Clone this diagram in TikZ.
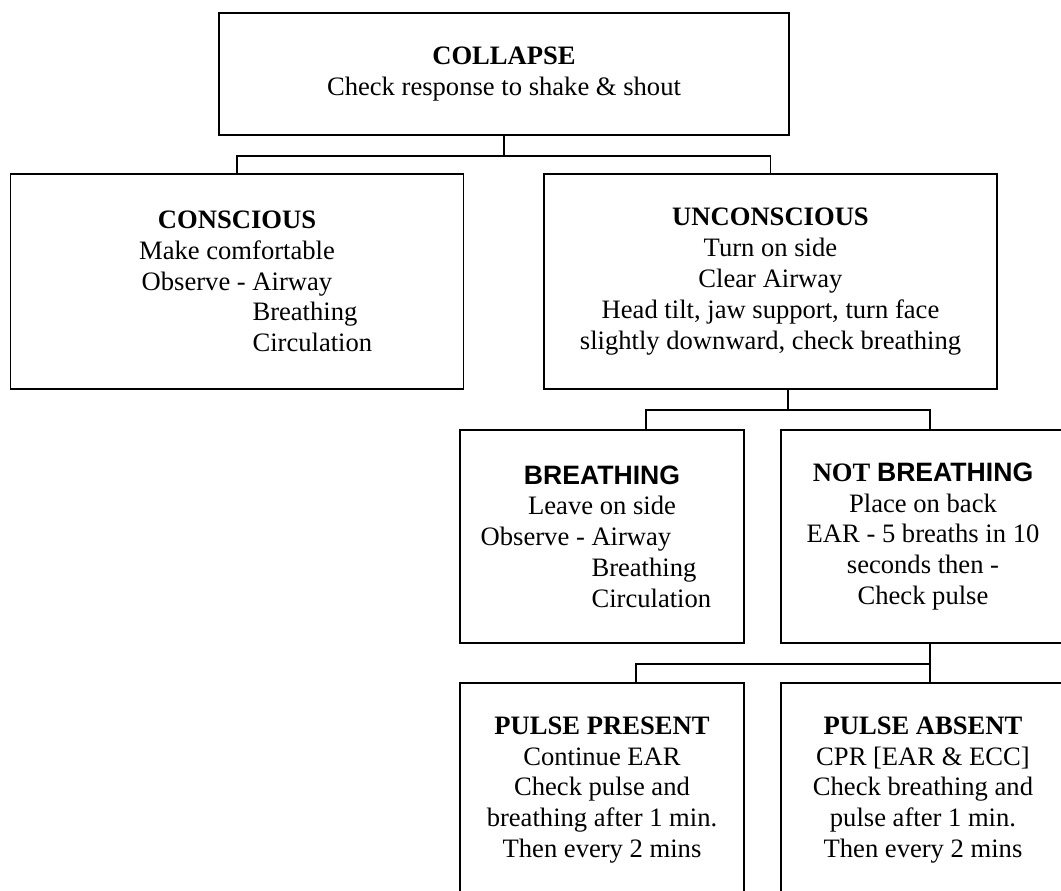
\documentclass[tikz,border=0pt]{standalone}
\usepackage{fontspec}
\setmainfont{Liberation Serif}
\newfontfamily\arialfont{Liberation Sans}
\newcommand{\obs}[1]{\hphantom{Observe - }\rlap{#1}\hphantom{Airway}}

\begin{document}
\begin{tikzpicture}[x=1pt,y=-1pt,line width=1.6pt,
box/.style={draw,rectangle,inner sep=0pt,align=center,font=\fontsize{26.6}{30.8}\selectfont},
widebox/.style={box,minimum width=453,minimum height=215},
smallbox/.style={box,minimum width=284,minimum height=213}]

\useasboundingbox (0,0) rectangle (1061,891);
\clip (0,0) rectangle (1061,891);

\draw (504,74) node[box,minimum width=570,minimum height=122] (collapse) {\textbf{COLLAPSE}\\Check response to shake \& shout};

\draw (237,281.5) node[widebox] (conscious) {\textbf{CONSCIOUS}\\Make comfortable\\Observe - Airway\\\obs{Breathing}\\\obs{Circulation}};
\draw (770.5,281.5) node[widebox] (unconscious) {\textbf{UNCONSCIOUS}\\Turn on side\\Clear Airway\\Head tilt, jaw support, turn face\\slightly downward, check breathing};

\draw (602,536.5) node[smallbox] (breathing) {{\arialfont\bfseries BREATHING}\\Leave on side\\Observe - Airway\kern52pt\\\obs{Breathing}\kern52pt\\\obs{Circulation}\kern52pt};
\draw (923,536.5) node[smallbox] (notbreathing) {\textbf{NOT {\arialfont BREATHING}}\\Place on back\\EAR - 5 breaths in 10\\seconds then -\\Check pulse};

\draw (602,790) node[smallbox,minimum height=214] (present) {\textbf{PULSE PRESENT}\\Continue EAR\\Check pulse and\\breathing after 1 min.\\Then every 2 mins};
\draw (923,790) node[smallbox,minimum height=214] (absent) {\textbf{PULSE ABSENT}\\CPR [EAR \& ECC]\\Check breathing and\\pulse after 1 min.\\Then every 2 mins};

% connectors
\draw (collapse.south) -- ++(0,20) coordinate (j1);
\draw (conscious.north) |- (j1) -| (unconscious.north);
\draw ([xshift=17.5pt]unconscious.south) -- ++(0,20) coordinate (j2);
\draw ([xshift=44pt]breathing.north) |- (j2) -| ([xshift=7pt]notbreathing.north);
\draw ([xshift=7pt]notbreathing.south) -- ++(0,20) coordinate (j3) -- ([xshift=7pt]absent.north);
\draw ([xshift=34pt]present.north) |- (j3);
\end{tikzpicture}
\end{document}
